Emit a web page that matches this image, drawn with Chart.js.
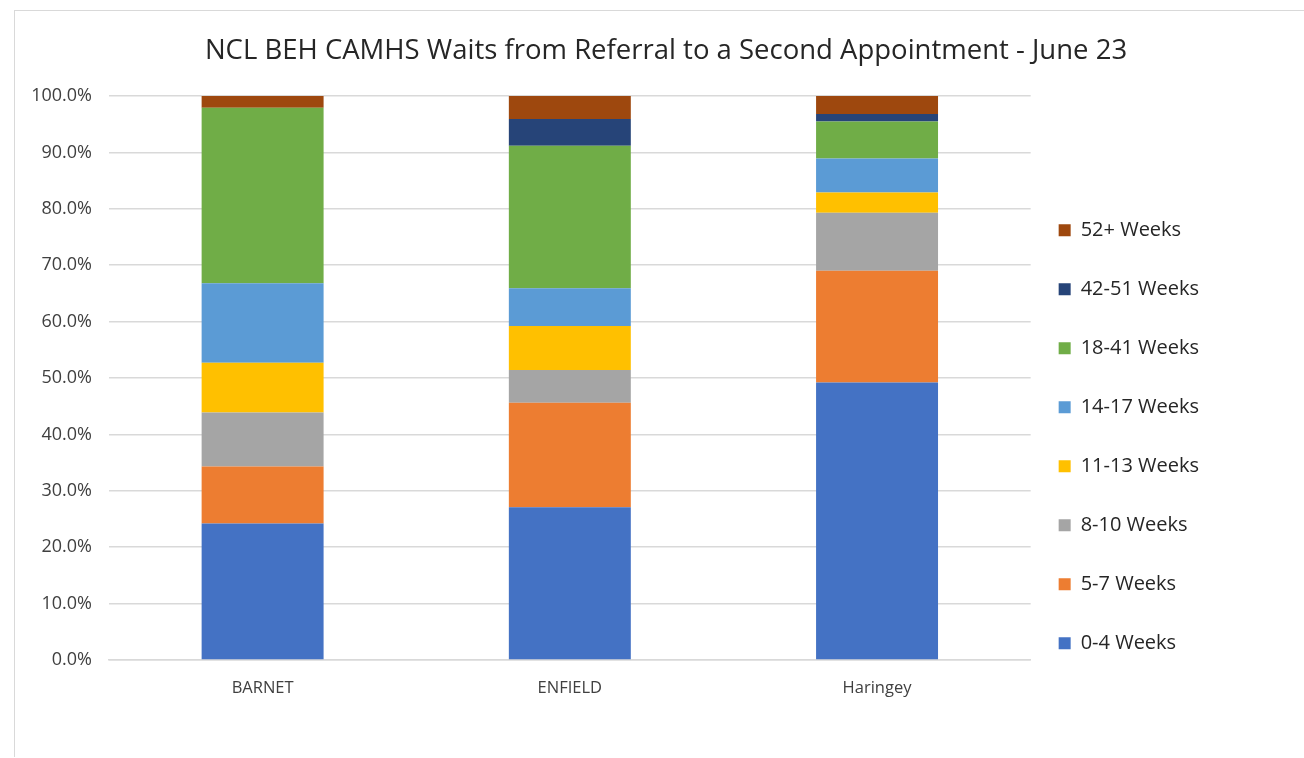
<!DOCTYPE html>
<html>
<head>
<meta charset="utf-8">
<script src="https://cdn.jsdelivr.net/npm/chart.js@4"></script>
<style>
  body { margin: 0; background: #fff; }
  #frame {
    position: absolute; left: 14px; top: 10px;
    width: 1290px; height: 747px;
    border: 1px solid #d9d9d9; border-right: none; border-bottom: none;
    box-sizing: border-box;
  }
  #chartWrap { position: absolute; left: 1px; top: 1px; width: 1289px; height: 746px; }
</style>
</head>
<body>
<div id="frame"><div id="chartWrap"><canvas id="waitsChart"></canvas></div></div>
<script>
// Categories
const areas = ["BARNET", "ENFIELD", "Haringey"];

// Series values (% of referrals)
const weeks0to4 = [24.2, 27.1, 49.2];
const weeks5to7 = [10.1, 18.5, 19.8];
const weeks8to10 = [9.6, 5.8, 10.3];
const weeks11to13 = [8.8, 7.8, 3.6];
const weeks14to17 = [14.1, 6.7, 6.0];
const weeks18to41 = [31.1, 25.3, 6.6];
const weeks42to51 = [0, 4.7, 1.3];
const weeks52plus = [2.1, 4.1, 3.2];

const seriesLabels = ["0-4 Weeks", "5-7 Weeks", "8-10 Weeks", "11-13 Weeks",
  "14-17 Weeks", "18-41 Weeks", "42-51 Weeks", "52+ Weeks"];
const seriesColours = ["#4472C4", "#ED7D31", "#A5A5A5", "#FFC000",
  "#5B9BD5", "#70AD47", "#264478", "#9E480E"];
const seriesData = [weeks0to4, weeks5to7, weeks8to10, weeks11to13,
  weeks14to17, weeks18to41, weeks42to51, weeks52plus];

const FONT = "'Open Sans', 'Liberation Sans', sans-serif";

const datasets = seriesLabels.map((label, i) => ({
  label: label,
  data: seriesData[i],
  backgroundColor: seriesColours[i],
  borderWidth: 0,
  barPercentage: 0.397,
  categoryPercentage: 1.0,
}));

// centre the title over the whole chart, not just the part left of the legend
const centreTitle = {
  id: "centreTitle",
  afterLayout(chart) {
    chart.titleBlock.left = 11;
    chart.titleBlock.right = chart.width;
  },
};

new Chart(document.getElementById("waitsChart"), {
  type: "bar",
  data: { labels: areas, datasets: datasets },
  plugins: [centreTitle],
  options: {
    responsive: true,
    maintainAspectRatio: false,
    animation: false,
    layout: { padding: { left: 15, right: 96, top: 16, bottom: 0 } },
    plugins: {
      title: {
        display: true,
        text: "NCL BEH CAMHS Waits from Referral to a Second Appointment - June 23",
        color: "#262626",
        font: { family: FONT, size: 27.5, weight: "normal" },
        padding: { top: 7, bottom: 28 },
      },
      legend: {
        position: "right",
        reverse: true,
        title: { display: true, text: "", padding: { top: 0, bottom: 84 } },
        labels: {
          color: "#262626",
          font: { family: FONT, size: 20, lineHeight: 31 / 20 },
          boxWidth: 12,
          boxHeight: 12,
          padding: 28,
          // one-line arrays so each row takes the font's line height
          generateLabels: (chart) =>
            Chart.defaults.plugins.legend.labels.generateLabels(chart)
              .map((item) => ({ ...item, text: [item.text] })),
        },
      },
      tooltip: { enabled: false },
    },
    scales: {
      x: {
        stacked: true,
        afterFit: (scale) => { scale.height = 98; },
        grid: { display: false },
        border: { color: "#d9d9d9", width: 1.5 },
        ticks: { color: "#404040", font: { family: FONT, size: 16.5 }, padding: 10 },
      },
      y: {
        stacked: true,
        min: 0,
        max: 100,
        afterFit: (scale) => { scale.width = 78; },
        border: { display: false },
        grid: { color: "#d9d9d9", lineWidth: 1.5, drawTicks: false },
        ticks: {
          stepSize: 10,
          padding: 17,
          color: "#404040",
          font: { family: FONT, size: 18 },
          callback: (v) => v.toFixed(1) + "%",
        },
      },
    },
  },
});
</script>
</body>
</html>
